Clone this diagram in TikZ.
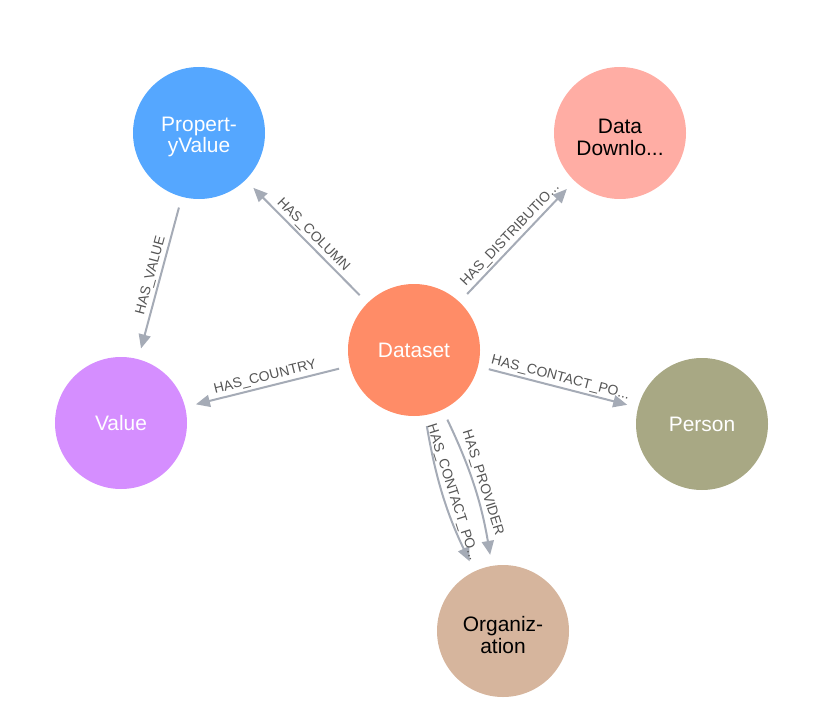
\documentclass[tikz,border=0pt]{standalone}
\usepackage{fontspec}
\setmainfont{Liberation Sans}
\usetikzlibrary{arrows.meta}
\definecolor{pvblue}{HTML}{55A7FF}
\definecolor{ddpink}{HTML}{FFADA4}
\definecolor{dsorange}{HTML}{FF8C67}
\definecolor{valviolet}{HTML}{D58EFF}
\definecolor{perolive}{HTML}{A8A884}
\definecolor{orgtan}{HTML}{D6B59D}
\definecolor{relgray}{HTML}{A5ABB6}
\definecolor{lblgray}{HTML}{555555}
\begin{document}
\begin{tikzpicture}[x=1bp,y=-1bp,
  ent/.style={circle, minimum size=132bp, inner sep=0pt, align=center,
    font=\fontsize{21}{22}\selectfont, text=white},
  twoline/.style={align=center, font=\fontsize{21}{22}\selectfont, text=white, yshift=-4bp},
  rel/.style={draw=relgray, line width=2bp, -{Triangle[length=14bp,width=12bp]},
    shorten <=11bp, shorten >=11bp},
  lbl/.style={sloped, above, midway, inner sep=2bp, text=lblgray,
    font=\fontsize{14}{14}\selectfont}]
  \useasboundingbox (0,0) rectangle (833,705);
  % entities
  \node[ent, fill=pvblue, label={[twoline]center:{Propert-\\yValue}}] (pv) at (199,133) {};
  \node[ent, fill=ddpink, label={[twoline, text=black]center:{Data\\Downlo...}}] (dd) at (620,133) {};
  \node[ent, fill=dsorange] (ds) at (414,350) {Dataset};
  \node[ent, fill=valviolet] (val) at (121,423) {Value};
  \node[ent, fill=perolive] (per) at (702,424) {Person};
  \node[ent, fill=orgtan, label={[twoline, text=black]center:{Organiz-\\ation}}] (org) at (503,631) {};
  % relations
  \draw[rel] (ds) -- node[lbl] {HAS\_COLUMN} (pv);
  \draw[rel] (ds) -- node[lbl] {HAS\_DISTRIBUTIO...} (dd);
  \draw[rel] (ds) -- node[lbl] {HAS\_CONTACT\_PO...} (per);
  \draw[rel] (ds) -- node[lbl] {HAS\_COUNTRY} (val);
  \draw[rel] (pv) -- node[lbl] {HAS\_VALUE} (val);
  \draw[rel] (ds) to[bend right=8] node[lbl] {HAS\_CONTACT\_PO...} (org);
  \draw[rel] (ds) to[bend left=8] node[lbl] {HAS\_PROVIDER} (org);
\end{tikzpicture}
\end{document}
